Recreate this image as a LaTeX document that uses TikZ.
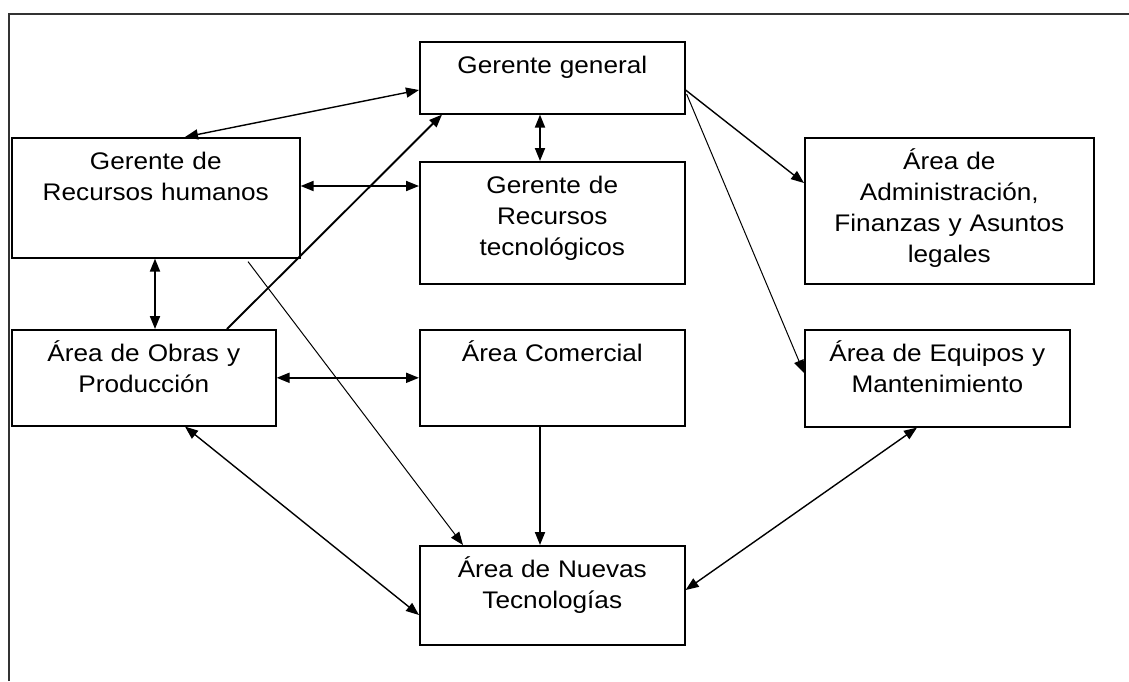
\documentclass[tikz,border=0pt]{standalone}
\usepackage{fontspec}
\setmainfont{Liberation Sans}[FakeStretch=1.09]
\usetikzlibrary{arrows.meta,calc}
\begin{document}
\begin{tikzpicture}[x=1pt,y=-1pt,
  box/.style={draw,line width=1.6pt,inner sep=0pt,align=center,anchor=north west,
    font=\fontsize{24}{31}\selectfont,text height=32pt},
  one/.style={-{Triangle[length=13pt,width=10pt]}},
  two/.style={{Triangle[length=13pt,width=10pt]}-{Triangle[length=13pt,width=10pt]}},
  heavy/.style={line width=1.9pt},
  mid/.style={line width=1.4pt},
  fine/.style={line width=1pt}]
\useasboundingbox (0,0) rectangle (1129,681);

% page frame
\draw[line width=1.5pt,black!80] (9,681) -- (9,14) -- (1129,14);

% boxes
\node[box,text width=265pt,text depth=40pt] (gg) at (419,41) {Gerente general};
\node[box,text width=288pt,text depth=88pt] (grh) at (11,137) {Gerente de\\Recursos humanos};
\node[box,text width=265pt,text depth=90pt] (grt) at (419,161) {Gerente de\\Recursos\\tecnológicos};
\node[box,text width=289pt,text depth=114pt] (adm) at (804,137) {Área de\\Administración,\\Finanzas y Asuntos\\legales};
\node[box,text width=264pt,text depth=64pt] (obr) at (11,329) {Área de Obras y\\Producción};
\node[box,text width=265pt,text depth=64pt] (com) at (419,329) {Área Comercial};
\node[box,text width=265pt,text depth=65pt] (equ) at (804,329) {Área de Equipos y\\Mantenimiento};
\node[box,text width=265pt,text depth=67pt] (nue) at (419,545) {Área de Nuevas\\Tecnologías};

% connectors
\draw[two,mid] ($(gg.north west)+(0,49)$) -- ($(grh.north west)+(174,0)$);
\draw[two,heavy] ($(gg.south west)+(121,0)$) -- ($(grt.north west)+(121,0)$);
\draw[two,heavy] ($(grh.north east)+(0,49)$) -- ($(grt.north west)+(0,25)$);
\draw[two,heavy] ($(grh.south west)+(144,0)$) -- ($(obr.north west)+(144,0)$);
\draw[one,heavy] ($(obr.north west)+(216,0)$) -- ($(gg.south west)+(23,0)$);
\draw[two,heavy] (obr.east) -- (com.west);
\draw[one,fine] ($(grh.south west)+(237,3)$) -- ($(nue.north west)+(44,0)$);
\draw[two,mid] ($(obr.south west)+(174,0)$) -- ($(nue.north west)+(0,70)$);
\draw[one,heavy] ($(com.south west)+(121,0)$) -- ($(nue.north west)+(121,0)$);
\draw[one,mid] ($(gg.north east)+(0,49)$) -- ($(adm.north west)+(0,46)$);
\draw[one,fine] ($(gg.north east)+(1,53)$) -- ($(equ.north west)+(0,44)$);
\draw[two,mid] ($(equ.south west)+(113,0)$) -- ($(nue.north east)+(0,45)$);
\end{tikzpicture}
\end{document}
